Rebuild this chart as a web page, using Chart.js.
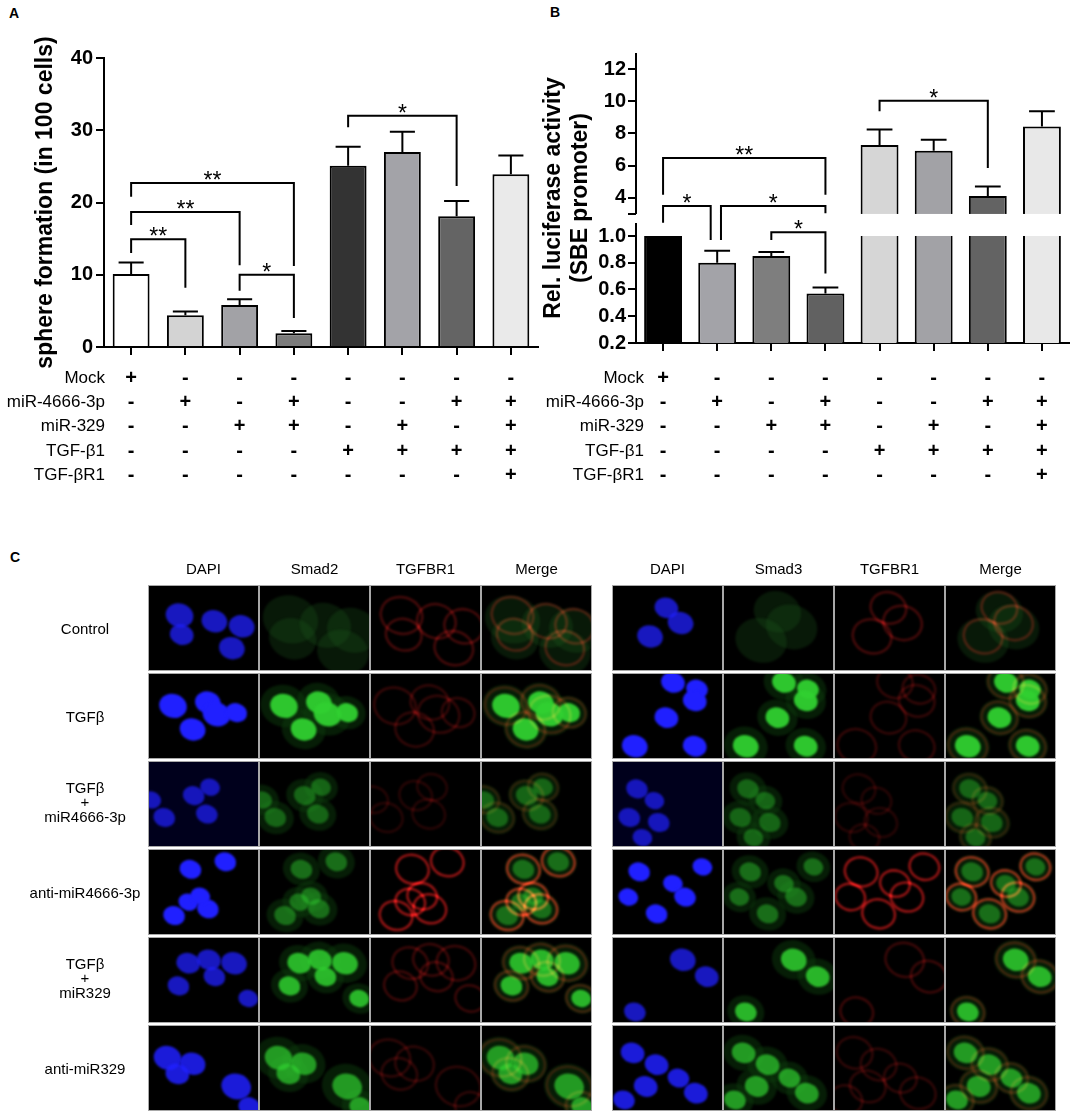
<!DOCTYPE html>
<html>
<head>
<meta charset="utf-8">
<title>Sphere formation and SBE luciferase activity</title>
<script src="https://cdn.jsdelivr.net/npm/chart.js@4.4.1/dist/chart.umd.min.js"></script>
<style>
  body { margin: 0; background: #fff; font-family: 'Liberation Sans', Arial, sans-serif; }
  #page { position: relative; width: 1084px; height: 1116px; overflow: hidden; }
  .tag { position: absolute; font-weight: bold; font-size: 14px; }
  #boxA { position: absolute; left: 0; top: 0; width: 540px; height: 500px; }
  #boxB { position: absolute; left: 540px; top: 0; width: 544px; height: 500px; }
  #cells { position: absolute; left: 0; top: 540px; }
  .head, .rowlab { position: absolute; font-size: 15px; text-align: center; color: #000; }
  .rowlab { line-height: 17px; }
</style>
</head>
<body>
<div id="page">
  <div class="tag" style="left:9px;top:5px">A</div>
  <div class="tag" style="left:550px;top:4px">B</div>
  <div class="tag" style="left:10px;top:549px">C</div>
  <div id="boxA"><canvas id="chartA" width="540" height="500"></canvas></div>
  <div id="boxB"><canvas id="chartB" width="544" height="500"></canvas></div>
  <canvas id="cells" width="1084" height="576"></canvas>
</div>
<script>
// groups (same order in both panels)
const groups = ['Mock', 'miR-4666-3p', 'miR-329', 'miR-4666-3p + miR-329',
  'TGF-β1', 'TGF-β1 + miR-329', 'TGF-β1 + miR-4666-3p', 'TGF-β1 + miR-4666-3p + miR-329 + TGF-βR1'];

// panel A: sphere formation (in 100 cells)
const sphereMean = [10.1, 4.4, 5.8, 1.9, 25.1, 27.0, 18.1, 23.9];
const sphereSem = [1.6, 0.5, 0.8, 0.3, 2.6, 2.8, 2.1, 2.6];
const sphereColors = ['#ffffff', '#d3d3d3', '#a2a2a6', '#7b7b7b', '#333333', '#a3a3a8', '#646464', '#eaeaea'];
const sphereBrackets = [
  { a: 0, b: 1, y: 14.9, ya: 13.0, yb: 8.2, text: '**' },
  { a: 0, b: 2, y: 18.7, ya: 16.9, yb: 11.3, text: '**' },
  { a: 0, b: 3, y: 22.7, ya: 20.8, yb: 11.2, text: '**' },
  { a: 2, b: 3, y: 10.0, ya: 7.8, yb: 4.0, text: '*' },
  { a: 4, b: 6, y: 32.0, ya: 30.4, yb: 22.3, text: '*' }
];

// panel B: relative luciferase activity (SBE promoter), broken axis
const lucMean = [1.0, 0.80, 0.85, 0.57, 7.28, 6.93, 4.12, 8.44];
const lucSem = [0, 0.09, 0.03, 0.045, 0.96, 0.68, 0.58, 0.94];
const lucColors = ['#000000', '#a3a3a8', '#7e7e7e', '#616161', '#d6d6d6', '#a2a2a6', '#636363', '#e8e8e8'];
const lucTicks = [0.2, 0.4, 0.6, 0.8, 1.0, 4, 6, 8, 10, 12];
const lucBreak = { low: 1.0, high: 3.0 };
const lucBrackets = [
  { a: 0, b: 3, y: 6.47, ya: 4.19, yb: 4.19, text: '**' },
  { a: 0, b: 0.88, y: 3.5, ya: 2.2, yb: 0.97, text: '*' },
  { a: 1.07, b: 3, y: 3.5, ya: 0.97, yb: 3.05, text: '*' },
  { a: 2, b: 3, y: 1.34, ya: 0.97, yb: 0.72, text: '*' },
  { a: 4, b: 6, y: 10.04, ya: 9.38, yb: 5.85, text: '*' }
];

// treatment table under both charts
const condRows = ['Mock', 'miR-4666-3p', 'miR-329', 'TGF-β1', 'TGF-βR1'];
const condMock   = ['+', '-', '-', '-', '-', '-', '-', '-'];
const condMir4666 = ['-', '+', '-', '+', '-', '-', '+', '+'];
const condMir329 = ['-', '-', '+', '+', '-', '+', '-', '+'];
const condTgfb1  = ['-', '-', '-', '-', '+', '+', '+', '+'];
const condTgfbr1 = ['-', '-', '-', '-', '-', '-', '-', '+'];
const condTable = [condMock, condMir4666, condMir329, condTgfb1, condTgfbr1];

// panel C: immunofluorescence grid
const headLeft = ['DAPI', 'Smad2', 'TGFBR1', 'Merge'];
const headRight = ['DAPI', 'Smad3', 'TGFBR1', 'Merge'];
const cellRows = [['Control'], ['TGFβ'], ['TGFβ', '+', 'miR4666-3p'], ['anti-miR4666-3p'], ['TGFβ', '+', 'miR329'], ['anti-miR329']];

const FONT = "'Liberation Sans', Arial, sans-serif";
Chart.defaults.font.family = FONT;
Chart.defaults.color = '#000';

// piecewise y scale: lower segment, gap, upper segment
class BrokenScale extends Chart.LinearScale {
  static id = 'broken';
  static defaults = Chart.LinearScale.defaults;
  buildTicks() { return lucTicks.map(v => ({ value: v })); }
  frac(v) {
    const lowF = 0.369, gapF = 0.076;
    const { low, high } = lucBreak;
    if (v <= low) return (v - this.min) / (low - this.min) * lowF;
    if (v <= high) return lowF + (v - low) / (high - low) * gapF;
    return lowF + gapF + (v - high) / (this.max - high) * (1 - lowF - gapF);
  }
  getPixelForValue(v) { return this.getPixelForDecimal(this.frac(v)); }
  getValueForPixel(p) {
    const d = this.getDecimalForPixel(p);
    const lowF = 0.369, gapF = 0.076;
    const { low, high } = lucBreak;
    if (d <= lowF) return this.min + d / lowF * (low - this.min);
    if (d <= lowF + gapF) return low + (d - lowF) / gapF * (high - low);
    return high + (d - lowF - gapF) / (1 - lowF - gapF) * (this.max - high);
  }
}
Chart.register(BrokenScale);

function tablePlugin(labelOffset) {
  return {
    id: 'condTable',
    afterDraw(chart) {
      const { ctx, chartArea, scales: { x } } = chart;
      ctx.save();
      ctx.fillStyle = '#000';
      ctx.textBaseline = 'middle';
      condRows.forEach((name, r) => {
        const yy = 378 + r * 24.4;
        ctx.font = '17px ' + FONT;
        ctx.textAlign = 'right';
        ctx.fillText(name, chartArea.left + labelOffset, yy);
        ctx.font = 'bold 20px ' + FONT;
        ctx.textAlign = 'center';
        condTable[r].forEach((s, i) => ctx.fillText(s, x.getPixelForValue(i), yy));
      });
      ctx.restore();
    }
  };
}

function marksPlugin(sem, brackets, broken) {
  return {
    id: 'marks',
    afterDatasetsDraw(chart) {
      const { ctx, chartArea: area, scales: { x, y } } = chart;
      const meta = chart.getDatasetMeta(0);
      const vals = chart.data.datasets[0].data;
      ctx.save();
      if (broken) {
        // white band for the axis break
        const top = y.getPixelForValue(broken.high), bot = y.getPixelForValue(broken.low);
        ctx.fillStyle = '#fff';
        ctx.fillRect(area.left + 1, top, area.right - area.left, bot - top);
      }
      ctx.strokeStyle = '#000';
      ctx.lineWidth = 2;
      // error bars (upper only)
      meta.data.forEach((bar, i) => {
        if (!sem[i]) return;
        const y0 = y.getPixelForValue(vals[i]), y1 = y.getPixelForValue(vals[i] + sem[i]);
        const half = bar.width * 0.34;
        ctx.beginPath();
        ctx.moveTo(bar.x, y0); ctx.lineTo(bar.x, y1);
        ctx.moveTo(bar.x - half, y1); ctx.lineTo(bar.x + half, y1);
        ctx.stroke();
      });
      // significance brackets
      ctx.fillStyle = '#000';
      ctx.font = '23px ' + FONT;
      ctx.textAlign = 'center';
      ctx.textBaseline = 'alphabetic';
      brackets.forEach(b => {
        const xa = x.getPixelForValue(b.a), xb = x.getPixelForValue(b.b), yy = y.getPixelForValue(b.y);
        ctx.beginPath();
        ctx.moveTo(xa, y.getPixelForValue(b.ya));
        ctx.lineTo(xa, yy); ctx.lineTo(xb, yy);
        ctx.lineTo(xb, y.getPixelForValue(b.yb));
        ctx.stroke();
        ctx.fillText(b.text, (xa + xb) / 2, yy + 5);
      });
      if (broken) {
        // broken y axis line
        const pLow = y.getPixelForValue(broken.low), pHigh = y.getPixelForValue(broken.high);
        ctx.beginPath();
        ctx.moveTo(area.left, area.bottom + 1); ctx.lineTo(area.left, pLow - 13);
        ctx.moveTo(area.left, pHigh); ctx.lineTo(area.left, area.top);
        ctx.moveTo(area.left - 8, pHigh); ctx.lineTo(area.left, pHigh);
        ctx.stroke();
      }
      ctx.restore();
    }
  };
}

const axisX = {
  offset: true,
  grid: { display: true, offset: false, drawOnChartArea: false, drawTicks: true, tickLength: 8, color: '#000', lineWidth: 2 },
  border: { display: true, color: '#000', width: 2 },
  ticks: { display: false },
  afterFit(s) { s.height = 8; }
};

new Chart(document.getElementById('chartA'), {
  type: 'bar',
  data: {
    labels: groups,
    datasets: [{ data: sphereMean, backgroundColor: sphereColors, borderColor: '#000', borderWidth: 2,
      categoryPercentage: 1, barPercentage: 0.68 }]
  },
  options: {
    responsive: false, animation: false,
    layout: { padding: { top: 58, right: 2, bottom: 145, left: 0 } },
    plugins: { legend: { display: false }, tooltip: { enabled: false } },
    scales: {
      x: axisX,
      y: {
        min: 0, max: 40,
        ticks: { stepSize: 10, color: '#000', padding: 3, font: { size: 20, weight: 'bold' } },
        grid: { drawOnChartArea: false, tickLength: 8, color: '#000', lineWidth: 2 },
        border: { color: '#000', width: 2 },
        title: { display: true, text: 'sphere formation (in 100 cells)', color: '#000',
          font: { size: 23, weight: 'bold' }, padding: { top: 32, bottom: 0 } },
        afterFit(s) { s.width = 104; }
      }
    }
  },
  plugins: [marksPlugin(sphereSem, sphereBrackets, null), tablePlugin(1)]
});

new Chart(document.getElementById('chartB'), {
  type: 'bar',
  data: {
    labels: groups,
    datasets: [{ data: lucMean, backgroundColor: lucColors, borderColor: '#000', borderWidth: 2,
      categoryPercentage: 1, barPercentage: 0.70 }]
  },
  options: {
    responsive: false, animation: false,
    layout: { padding: { top: 53, right: 15, bottom: 149, left: 0 } },
    plugins: { legend: { display: false }, tooltip: { enabled: false } },
    scales: {
      x: axisX,
      y: {
        type: 'broken',
        min: 0.2, max: 13,
        ticks: { autoSkip: false, color: '#000', padding: 2, font: { size: 20, weight: 'bold' },
          callback: v => (v <= 1 ? v.toFixed(1) : String(v)) },
        grid: { drawOnChartArea: false, tickLength: 8, color: '#000', lineWidth: 2 },
        border: { display: false },
        title: { display: true, text: ['Rel. luciferase activity', '(SBE promoter)'], color: '#000',
          font: { size: 23, weight: 'bold', lineHeight: '27px' }, padding: { top: 0, bottom: 0 } },
        afterFit(s) { s.width = 96; }
      }
    }
  },
  plugins: [marksPlugin(lucSem, lucBrackets, lucBreak), tablePlugin(8)]
});

// ---- panel C (fluorescence placeholders) ----
const cellW = 109, cellH = 84, colStep = 111, rowStep = 88, rowTop = 586;
const blockLeft = [149, 613];
const nucleiLeft = [
  [[28, 35, 14], [30, 58, 12], [60, 42, 13], [85, 48, 13], [76, 74, 13]],
  [[22, 38, 14], [54, 34, 13], [62, 48, 14], [80, 46, 11], [40, 66, 13]],
  [[41, 40, 11], [56, 30, 10], [53, 62, 11], [14, 66, 11], [2, 45, 10]],
  [[38, 23, 11], [70, 14, 11], [36, 62, 10], [54, 70, 11], [23, 78, 11], [47, 55, 10]],
  [[36, 30, 12], [55, 26, 12], [78, 30, 13], [60, 46, 11], [27, 57, 11], [91, 72, 10]],
  [[17, 38, 14], [40, 45, 13], [26, 57, 12], [80, 72, 15], [92, 96, 11]]
];
const nucleiRight = [
  [[49, 26, 12], [62, 44, 13], [34, 60, 13]],
  [[55, 10, 12], [77, 18, 11], [75, 32, 12], [49, 52, 12], [20, 86, 13], [75, 86, 12]],
  [[22, 32, 11], [38, 46, 10], [15, 66, 11], [42, 72, 11], [27, 90, 10]],
  [[24, 26, 11], [55, 40, 10], [14, 56, 10], [66, 56, 11], [40, 76, 11], [82, 20, 10]],
  [[64, 26, 13], [86, 46, 12], [20, 88, 11]],
  [[18, 32, 12], [40, 46, 12], [60, 62, 11], [30, 72, 12], [76, 80, 12], [10, 88, 11]]
];
const rowStyle = [
  { blue: 0.75, green: 0.28, red: 0.4, nuc: false },
  { blue: 1, green: 0.95, red: 0.3, nuc: true },
  { blue: 0.7, green: 0.4, red: 0.22, nuc: true, tint: '#00001c' },
  { blue: 1, green: 0.45, red: 0.85, nuc: true },
  { blue: 0.75, green: 0.85, red: 0.35, nuc: true },
  { blue: 0.85, green: 0.7, red: 0.28, nuc: true }
];

const cc = document.getElementById('cells').getContext('2d');
const offY = 540;

function spot(ctx, cx, cy, rx, ry, color, alpha, stroke) {
  ctx.globalAlpha = alpha;
  ctx.beginPath();
  ctx.ellipse(cx, cy, rx, ry, 0.3, 0, Math.PI * 2);
  if (stroke) { ctx.strokeStyle = color; ctx.lineWidth = 2.5; ctx.stroke(); }
  else { ctx.fillStyle = color; ctx.fill(); }
}

function drawChannel(ctx, x0, y0, nuclei, st, ch) {
  const pts = nuclei.map(n => [x0 + n[0] / 100 * cellW, y0 + n[1] / 100 * cellH, n[2]]);
  ctx.filter = 'blur(1.2px)';
  if (ch === 0) {
    pts.forEach(p => spot(ctx, p[0], p[1], p[2], p[2] * 0.85, '#2020ff', st.blue));
  }
  if (ch === 1 || ch === 3) {
    if (st.nuc) {
      pts.forEach(p => spot(ctx, p[0], p[1], p[2] * 1.7, p[2] * 1.5, '#0b3a0b', 0.5));
      pts.forEach(p => spot(ctx, p[0], p[1], p[2], p[2] * 0.85, '#30d030', st.green));
    } else {
      pts.forEach(p => spot(ctx, p[0], p[1] + 4, p[2] * 2, p[2] * 1.7, '#1d5a1d', st.green));
    }
  }
  if (ch === 2 || ch === 3) {
    ctx.globalCompositeOperation = 'lighter';
    pts.forEach(p => spot(ctx, p[0], p[1], p[2] * 1.5, p[2] * 1.3, '#b01818', st.red, true));
    ctx.globalCompositeOperation = 'source-over';
  }
  ctx.filter = 'none';
  ctx.globalAlpha = 1;
}

cellRows.forEach((lab, r) => {
  const y0 = rowTop + r * rowStep - offY;
  blockLeft.forEach((bx, side) => {
    const nuclei = side === 0 ? nucleiLeft[r] : nucleiRight[r];
    for (let c = 0; c < 4; c++) {
      const x0 = bx + c * colStep;
      cc.save();
      cc.beginPath(); cc.rect(x0, y0, cellW, cellH); cc.clip();
      cc.fillStyle = (c === 0 && rowStyle[r].tint) ? rowStyle[r].tint : '#000';
      cc.fillRect(x0, y0, cellW, cellH);
      drawChannel(cc, x0, y0, nuclei, rowStyle[r], c);
      cc.restore();
      cc.strokeStyle = '#a8a8a8'; cc.lineWidth = 1;
      cc.strokeRect(x0 - 0.5, y0 - 0.5, cellW + 1, cellH + 1);
    }
  });
});

const page = document.getElementById('page');
blockLeft.forEach((bx, side) => {
  (side === 0 ? headLeft : headRight).forEach((h, c) => {
    const d = document.createElement('div');
    d.className = 'head';
    d.style.left = (bx + c * colStep) + 'px';
    d.style.top = '560px';
    d.style.width = cellW + 'px';
    d.textContent = h;
    page.appendChild(d);
  });
});
cellRows.forEach((lines, r) => {
  const d = document.createElement('div');
  d.className = 'rowlab';
  d.style.left = '20px';
  d.style.width = '130px';
  d.style.top = (rowTop + r * rowStep + cellH / 2 - lines.length * 17 / 2) + 'px';
  d.innerHTML = lines.map(t => t === '+' ? '<div style="line-height:12px;font-size:15px">+</div>' : '<div>' + t + '</div>').join('');
  page.appendChild(d);
});
</script>
</body>
</html>
